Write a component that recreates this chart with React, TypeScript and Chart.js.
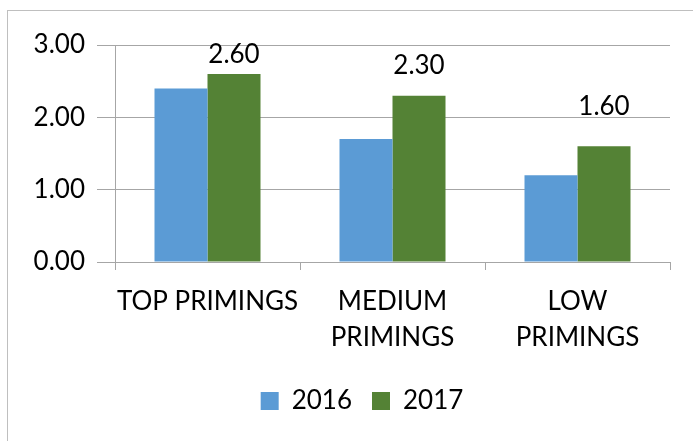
import React, { useEffect, useRef } from "react";
import { Chart, registerables } from "chart.js";

Chart.register(...registerables);

const categories: string[][] = [["TOP PRIMINGS"], ["MEDIUM", "PRIMINGS"], ["LOW", "PRIMINGS"]];
const series2016: number[] = [2.4, 1.7, 1.2];
const series2017: number[] = [2.6, 2.3, 1.6];
const yTicks: number[] = [0, 1, 2, 3];

const FONT = "Lato";
const FS = 26;
const labelGaps = [11, 22, 31];

const valueLabels = {
  id: "valueLabels",
  afterDatasetsDraw(chart: any) {
    const ctx = chart.ctx;
    const meta = chart.getDatasetMeta(1);
    ctx.save();
    ctx.font = `${FS}px ${FONT}`;
    ctx.fillStyle = "#000000";
    ctx.textAlign = "center";
    ctx.textBaseline = "alphabetic";
    meta.data.forEach((bar: any, i: number) => {
      const v = series2017[i];
      ctx.fillText(v.toFixed(2), bar.x, bar.y - labelGaps[i]);
    });
    ctx.restore();
  },
};

const legendShift = {
  id: "legendShift",
  afterLayout(chart: any) {
    const lg = chart.legend;
    if (lg) {
      lg.left += 17;
      lg.right += 17;
    }
  },
};

export default function App() {
  const ref = useRef<HTMLCanvasElement | null>(null);
  useEffect(() => {
    document.body.style.overflow = "hidden";
    const canvas = ref.current!;
    const chart = new Chart(canvas, {
      type: "bar",
      data: {
        labels: categories,
        datasets: [
          { label: "2016", data: series2016, backgroundColor: "#5B9BD5", borderWidth: 0 },
          { label: "2017", data: series2017, backgroundColor: "#548235", borderWidth: 0 },
        ],
      },
      options: {
        animation: false,
        responsive: false,
        devicePixelRatio: 1,
        layout: { padding: { left: 20, right: 23, top: 45, bottom: 17 } },
        datasets: { bar: { categoryPercentage: 0.573, barPercentage: 1 } },
        plugins: {
          legend: {
            position: "bottom",
            labels: {
              boxWidth: 18,
              boxHeight: 18,
              padding: 20,
              color: "#000000",
              font: { family: FONT, size: FS },
            },
          },
          tooltip: { enabled: false },
        },
        scales: {
          x: {
            afterFit: (s: any) => { s.height = 106; },
            grid: {
              drawOnChartArea: false,
              drawTicks: true,
              tickLength: 8,
              offset: true,
              color: "#a6a6a6",
            },
            border: { display: true, color: "#a6a6a6" },
            ticks: {
              color: "#000000",
              autoSkip: false,
              maxRotation: 0,
              padding: 14,
              font: { family: FONT, size: FS, lineHeight: 1.37 },
            },
          },
          y: {
            min: 0,
            max: 3,
            afterFit: (s: any) => { s.width = 95; },
            afterBuildTicks: (s: any) => { s.ticks = yTicks.map((v) => ({ value: v })); },
            grid: { color: "#a6a6a6", tickLength: 18 },
            border: { display: true, color: "#a6a6a6" },
            ticks: {
              color: "#000000",
              padding: 12,
              font: { family: FONT, size: FS },
              callback: (v: any) => Number(v).toFixed(2),
            },
          },
        },
      },
      plugins: [valueLabels, legendShift],
    });
    return () => chart.destroy();
  }, []);

  return (
    <div>
      <div
        style={{
          position: "fixed",
          left: 7,
          top: 10,
          width: 720,
          height: 460,
          border: "1px solid #bfbfbf",
          boxSizing: "border-box",
        }}
      />
      <canvas
        ref={ref}
        width={693}
        height={441}
        style={{ position: "fixed", left: 0, top: 0, width: 693, height: 441 }}
      />
    </div>
  );
}
